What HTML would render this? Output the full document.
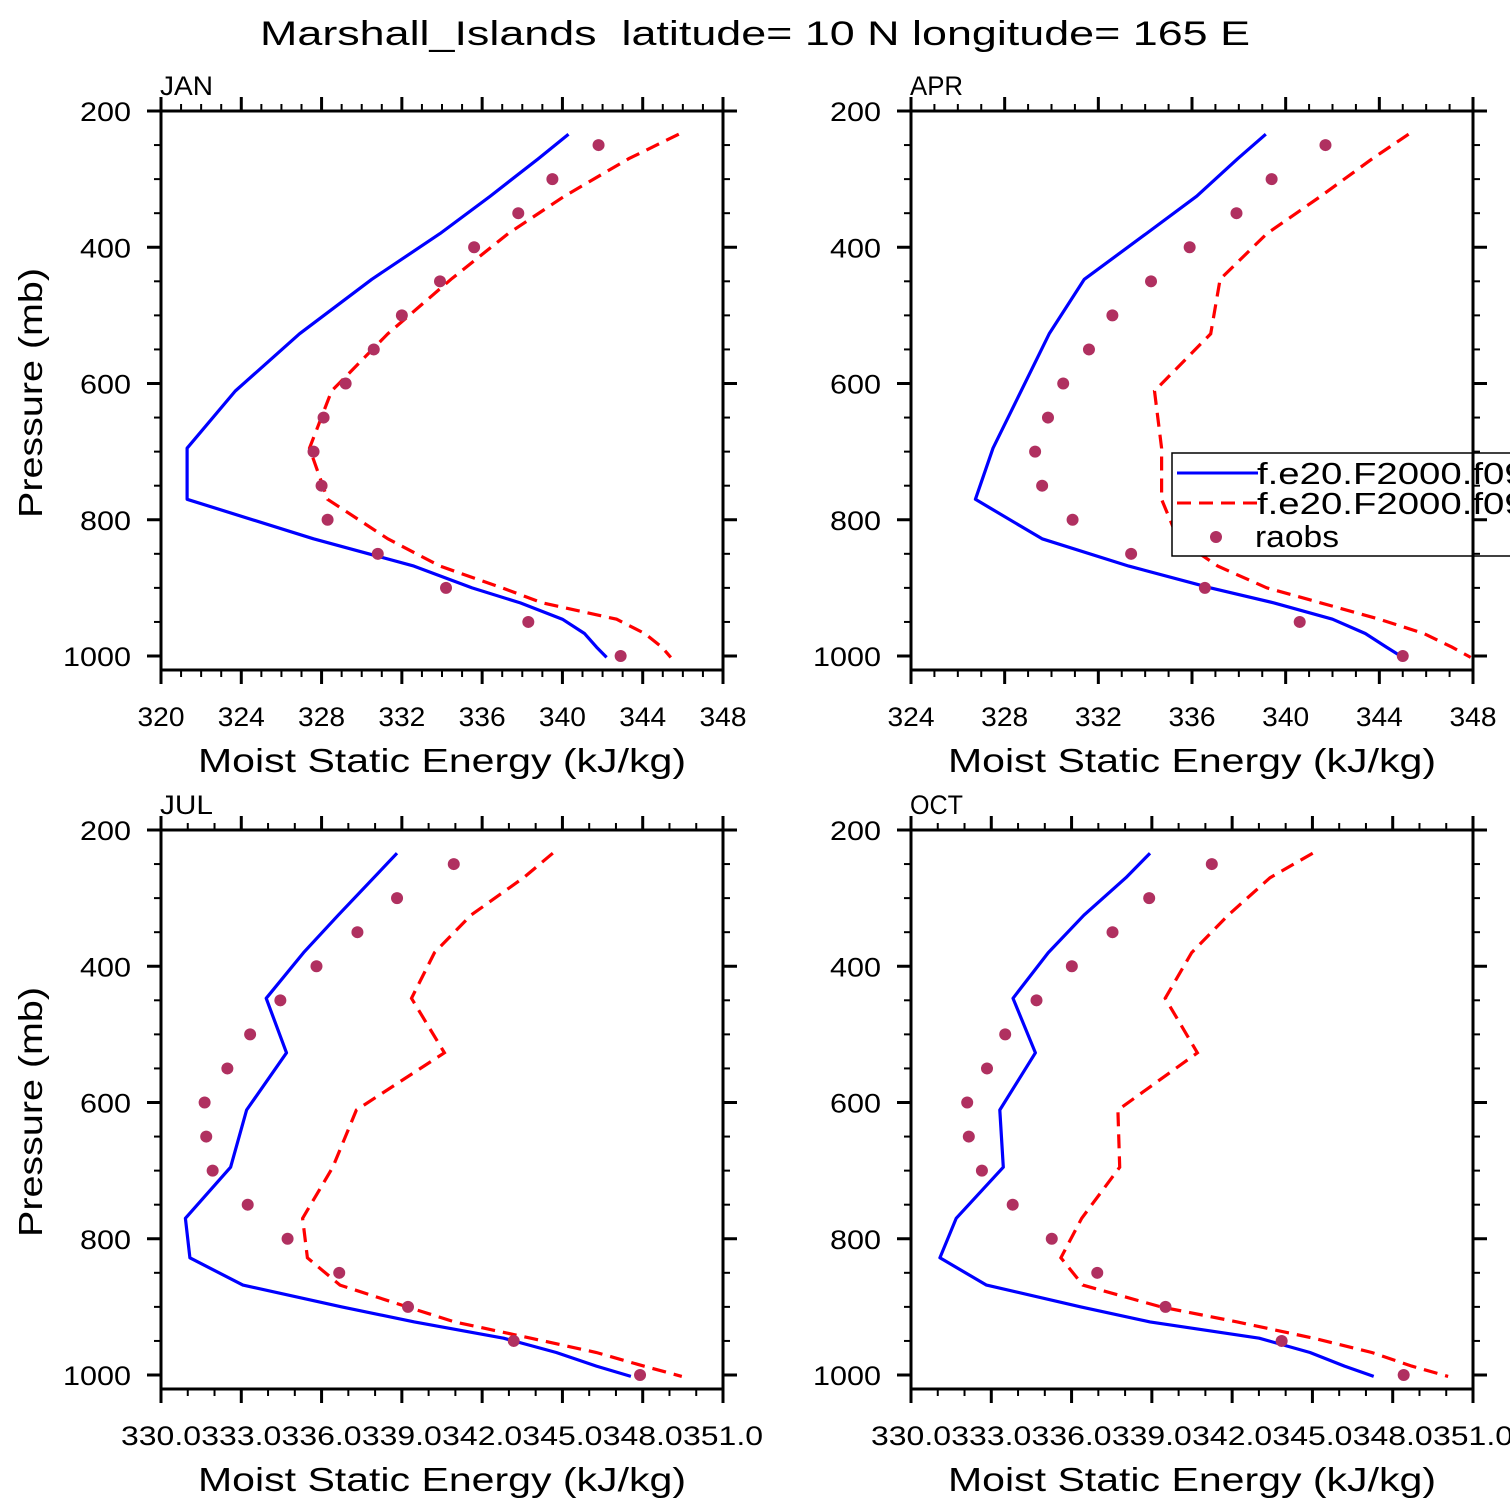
<!DOCTYPE html>
<html><head><meta charset="utf-8"><style>
html,body{margin:0;padding:0;background:#fff;}
svg{display:block;font-family:"Liberation Sans",sans-serif;}
</style></head><body>
<svg id="fig" width="1510" height="1510" viewBox="0 0 1510 1510" xmlns="http://www.w3.org/2000/svg">
<rect width="1510" height="1510" fill="#fff"/>
<text x="260" y="45" font-size="34" textLength="990" lengthAdjust="spacingAndGlyphs" style="white-space:pre">Marshall_Islands  latitude= 10 N longitude= 165 E</text>
</svg>
<script>
// model pressure levels (mb)
const modelLevels = [234,270,325,380,447,527,611,695,770,828,868,900,922,946,967,987,1002];
// raob pressure levels (mb)
const obsLevels = [250,300,350,400,450,500,550,600,650,700,750,800,850,900,950,1000];

const janBlue = [340.3,338.8,336.4,333.9,330.5,326.9,323.7,321.3,321.3,327.6,332.6,335.5,337.9,340.0,341.1,341.7,342.2];
const janRed  = [345.8,343.3,340.1,337.3,334.45,331.3,328.5,327.4,328.3,331.3,333.9,337.0,339.0,342.7,344.1,344.95,345.4];
const janObs  = [341.8,339.5,337.8,335.6,333.9,332.0,330.6,329.2,328.1,327.6,328.0,328.3,330.8,334.2,338.3,342.9];

const aprBlue = [339.15,337.95,336.2,334.05,331.4,329.9,328.7,327.5,326.75,329.6,333.3,336.8,339.5,342.0,343.4,344.3,345.0];
const aprRed  = [345.25,343.7,341.5,339.2,337.2,336.8,334.4,334.7,334.7,335.4,337.1,339.2,341.5,344.0,345.9,347.1,347.9];
const aprObs  = [341.7,339.4,337.9,335.9,334.25,332.6,331.6,330.5,329.85,329.3,329.6,330.9,333.4,336.55,340.6,345.0];

const julBlue = [338.82,337.95,336.62,335.33,333.93,334.69,333.20,332.60,330.91,331.08,333.06,336.76,339.47,342.80,344.77,346.27,347.56];
const julRed  = [344.64,343.55,341.58,340.22,339.36,340.59,337.30,336.42,335.29,335.47,336.69,339.20,340.97,343.82,346.27,348.04,349.46];
const julObs  = [340.94,338.82,337.34,335.81,334.46,333.33,332.48,331.63,331.69,331.93,333.24,334.73,336.66,339.23,343.18,347.90];

const octBlue = [338.93,338.03,336.46,335.13,333.81,334.65,333.32,333.45,331.69,331.08,332.82,336.35,338.93,343.01,344.91,346.20,347.29];
const octRed  = [345.01,343.42,341.85,340.49,339.50,340.70,337.73,337.80,336.38,335.60,336.42,339.34,342.19,345.04,347.22,348.71,350.07];
const octObs  = [341.24,338.90,337.53,336.01,334.69,333.52,332.84,332.10,332.16,332.65,333.80,335.26,336.96,339.51,343.85,348.41];

const yTicks = [200,400,600,800,1000];
const janXTicks = [320,324,328,332,336,340,344,348];
const aprXTicks = [324,328,332,336,340,344,348];
const julXTicks = [330,333,336,339,342,345,348,351];
const octXTicks = [330,333,336,339,342,345,348,351];
const legendLabels = ["f.e20.F2000.f09_","f.e20.F2000.f09_","raobs"];

const NS="http://www.w3.org/2000/svg";
const svg=document.getElementById('fig');
function mk(tag,attrs,parent){const e=document.createElementNS(NS,tag);for(const k in attrs)e.setAttribute(k,attrs[k]);(parent||svg).appendChild(e);return e;}

const panels=[
 {id:'jan',label:'JAN',L:161,T:111,xmin:320,xmax:348,ticks:janXTicks,dec:0,blue:janBlue,red:janRed,obs:janObs},
 {id:'apr',label:'APR',L:911,T:111,xmin:324,xmax:348,ticks:aprXTicks,dec:0,blue:aprBlue,red:aprRed,obs:aprObs,legend:true},
 {id:'jul',label:'JUL',L:161,T:830,xmin:330,xmax:351,ticks:julXTicks,dec:1,blue:julBlue,red:julRed,obs:julObs},
 {id:'oct',label:'OCT',L:911,T:830,xmin:330,xmax:351,ticks:octXTicks,dec:1,blue:octBlue,red:octRed,obs:octObs}
];
const W=562, K=0.68125, H=559;

panels.forEach(p=>{
  const g=mk('g',{});
  
  
  const xs=v=>p.L+(v-p.xmin)/(p.xmax-p.xmin)*W;
  const ys=pr=>p.T+(pr-200)*K;
  const R=p.L+W, B=p.T+H;
  const pts=arr=>arr.map((v,i)=>xs(v).toFixed(1)+','+ys(modelLevels[i]).toFixed(1)).join(' ');
  const bl=mk('polyline',{points:pts(p.blue),fill:'none',stroke:'#0000ff','stroke-width':3.2,'stroke-linejoin':'round'},g);
  
  
  const rl=mk('polyline',{points:pts(p.red),fill:'none',stroke:'#ff0000','stroke-width':3.2,'stroke-dasharray':'14 8'},g);
  
  
  p.obs.forEach((v,i)=>{
    const c=mk('circle',{cx:xs(v),cy:ys(obsLevels[i]),r:6,fill:'#b03060'},g);
    
    
  });
  if(p.legend){
    const lg=mk('g',{},g);
    
    
    mk('rect',{x:1172,y:453,width:400,height:103,fill:'#fff',stroke:'#000','stroke-width':1.5},lg);
    mk('line',{x1:1177,y1:473,x2:1258,y2:473,stroke:'#0000ff','stroke-width':3},lg);
    mk('line',{x1:1177,y1:503,x2:1258,y2:503,stroke:'#ff0000','stroke-width':3,'stroke-dasharray':'14 8'},lg);
    mk('circle',{cx:1216,cy:537,r:6,fill:'#b03060'},lg);
    [484,514,547].forEach((yy,i)=>{
      const a={x:i<2?1257:1255,y:yy,'font-size':31};
      if(i<2){a.textLength=290;a.lengthAdjust='spacingAndGlyphs';}
      else{a.textLength=84;a.lengthAdjust='spacingAndGlyphs';}
      const t=mk('text',a,lg);
      t.textContent=legendLabels[i];
      
      
    });
  }
  const fr=mk('rect',{x:p.L,y:p.T,width:W,height:H,fill:'none',stroke:'#000','stroke-width':3},g);
  
  
  for(let pr=200;pr<=1000;pr+=50){
    const major=pr%200===0, len=major?14:7, y=ys(pr);
    mk('line',{x1:p.L-len,y1:y,x2:p.L,y2:y,stroke:'#000','stroke-width':major?3:2},g);
    mk('line',{x1:R,y1:y,x2:R+len,y2:y,stroke:'#000','stroke-width':major?3:2},g);
  }
  yTicks.forEach(pr=>{
    const s=String(pr);
    const t=mk('text',{x:p.L-30,y:ys(pr)+10,'font-size':27,'text-anchor':'end',textLength:s.length*17,lengthAdjust:'spacingAndGlyphs'},g);
    t.textContent=s;
    
    
  });
  const step=p.ticks[1]-p.ticks[0];
  for(let v=p.xmin;v<=p.xmax+1e-6;v+=1){
    const major=Math.abs((v-p.xmin)%step)<1e-6, len=major?14:7, x=xs(v);
    mk('line',{x1:x,y1:B,x2:x,y2:B+len,stroke:'#000','stroke-width':major?3:2},g);
    mk('line',{x1:x,y1:p.T-len,x2:x,y2:p.T,stroke:'#000','stroke-width':major?3:2},g);
  }
  p.ticks.forEach(v=>{
    const attrs={x:xs(v),y:B+56,'font-size':27,'text-anchor':'middle'};
    attrs.textLength=p.dec?80:47;attrs.lengthAdjust='spacingAndGlyphs';
    const t=mk('text',attrs,g);
    t.textContent=p.dec?v.toFixed(1):v;
    
    
  });
  const pl=mk('text',{x:p.L-1,y:p.T-16,'font-size':27,textLength:53,lengthAdjust:'spacingAndGlyphs'},g);
  pl.textContent=p.label;
  
  
  const xt=mk('text',{x:p.L+W/2,y:B+102,'font-size':33,'text-anchor':'middle',textLength:488,lengthAdjust:'spacingAndGlyphs'},g);
  xt.textContent='Moist Static Energy (kJ/kg)';
  
  
  if(p.L<500){
    const cy=p.T+282;
    const yt=mk('text',{x:0,y:0,'font-size':33,'text-anchor':'middle',textLength:250,lengthAdjust:'spacingAndGlyphs',transform:`translate(42,${cy}) rotate(-90)`},g);
    yt.textContent='Pressure (mb)';
    
    
  }
});
</script>
</body></html>
